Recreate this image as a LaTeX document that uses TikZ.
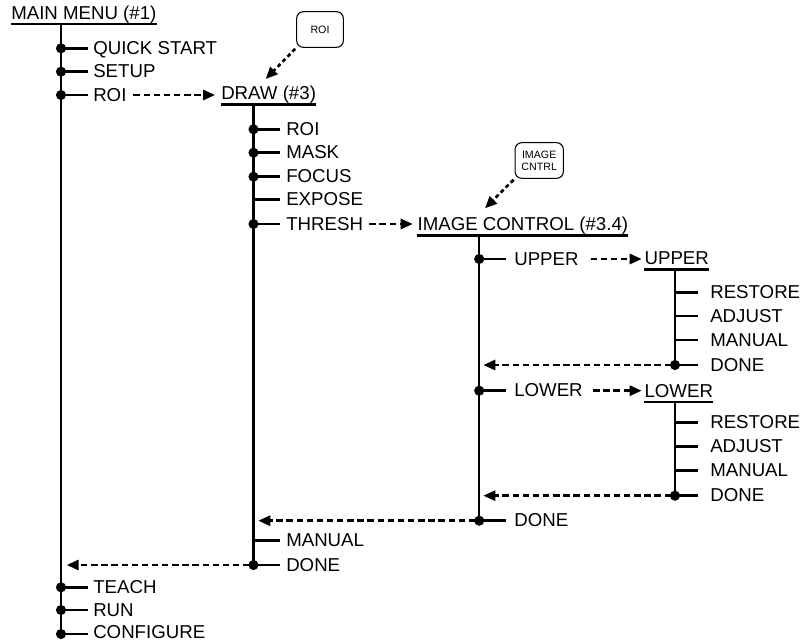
\documentclass[tikz,border=0pt]{standalone}
\usepackage{fontspec}
\setmainfont{Liberation Sans}
\usetikzlibrary{arrows.meta}
\begin{document}
\begin{tikzpicture}[x=0.75pt,y=-0.75pt,
  every node/.style={font=\fontsize{14pt}{16pt}\selectfont},
  ln/.style={line width=1.9pt},
  item/.style={anchor=west, inner xsep=#1, inner ysep=0pt, text height=10pt, text depth=0pt, yshift=0.5pt},
  item/.default=4pt,
  ttl/.style={anchor=base west, inner xsep=0pt, inner ysep=3.5pt, text depth=0pt},
  uline/.style={line width=1.9pt},
  dasharrow/.style={line width=1.9pt, dash pattern=on 4.8pt off 2.8pt, -{Triangle[length=9pt,width=7.6pt]}},
  boxarrow/.style={line width=2pt, dash pattern=on 3pt off 2.3pt, -{Triangle[length=9pt,width=7.6pt]}},
  smallbox/.style={draw, line width=0.8pt, rounded corners=5pt, minimum width=35pt, minimum height=26.7pt, font=\fontsize{8pt}{9.2pt}\selectfont, align=center, inner sep=1pt},
]
\useasboundingbox (0,0) rectangle (802,642);

% ---------------- MAIN MENU ----------------
\node[ttl] (mainT) at (11,19.3) {MAIN MENU (\#1)};
\draw[uline] (mainT.south west) -- (mainT.south east);
\coordinate (mq) at (61,48.3);
\coordinate (ms) at (61,71.7);
\coordinate (mr) at (61,95);
\coordinate (mt) at (61,587.3);
\coordinate (mu) at (61,610);
\coordinate (mc) at (61,634);
\draw[ln] (mainT.south -| mq) -- (mc);
\node[item=3.75pt] (lQS) at (88,48.3) {QUICK START};
\node[item=3.75pt] (lSetup) at (88,71.7) {SETUP};
\node[item=3.75pt] (lROI) at (88,95) {ROI};
\node[item=3.75pt] (lTeach) at (88,587.3) {TEACH};
\node[item=3.75pt] (lRun) at (88,610) {RUN};
\node[item=3.75pt, yshift=1.2pt] (lConf) at (88,634) {CONFIGURE};
\foreach \c/\l in {mq/lQS, ms/lSetup, mr/lROI, mt/lTeach, mu/lRun, mc/lConf}
  \draw[ln] (\c) -- (\c -| \l.west);

% ---------------- DRAW ----------------
\node[ttl] (drawT) at (221,99.6) {DRAW (\#3)};
\draw[uline] (drawT.south west) -- (drawT.south east);
\coordinate (dr) at (253.5,129.3);
\coordinate (dm) at (253.5,152.7);
\coordinate (df) at (253.5,176.7);
\coordinate (de) at (253.5,199.3);
\coordinate (dt) at (253.5,224);
\coordinate (dn) at (253.5,540.7);
\coordinate (dd) at (253.5,565);
\draw[ln] (drawT.south -| dr) -- (dd);
\node[item=4.5pt] (lDR) at (280,129.3) {ROI};
\node[item=4.5pt] (lDM) at (280,152.7) {MASK};
\node[item=4.5pt] (lDF) at (280,176.7) {FOCUS};
\node[item=4.5pt] (lDE) at (280,199.3) {EXPOSE};
\node[item=4.5pt] (lDT) at (280,224) {THRESH};
\node[item=4.5pt] (lDN) at (280,540.7) {MANUAL};
\node[item=4.5pt] (lDD) at (280,565) {DONE};
\foreach \c/\l in {dr/lDR, dm/lDM, df/lDF, de/lDE, dt/lDT, dn/lDN, dd/lDD}
  \draw[ln] (\c) -- (\c -| \l.west);
\draw[dasharrow, shorten <=1.3pt, shorten >=4.5pt] (lROI.east |- mr) -- (drawT.west |- mr);

% ROI box
\node[smallbox] (roiBox) at (320,29.5) {ROI};
\coordinate (roiTip) at (265.7,79);
\draw[boxarrow, shorten <=1pt] (roiBox.south west) -- (roiTip);

% ---------------- IMAGE CONTROL ----------------
\node[ttl] (icT) at (417.3,230.3) {IMAGE CONTROL (\#3.4)};
\draw[uline] (icT.south west) -- (icT.south east);
\coordinate (iu) at (479.2,259);
\coordinate (il) at (479.2,390.7);
\coordinate (id) at (479.2,520.7);
\draw[ln] (icT.south -| iu) -- (id);
\node[item=6pt] (lIU) at (506,259) {UPPER};
\node[item=6pt] (lIL) at (506,390.7) {LOWER};
\node[item=6pt] (lID) at (506,520.7) {DONE};
\foreach \c/\l in {iu/lIU, il/lIL, id/lID}
  \draw[ln] (\c) -- (\c -| \l.west);
\draw[dasharrow, shorten <=0pt, shorten >=3.5pt] (lDT.east |- dt) -- (icT.west |- dt);

% IMAGE CNTRL box
\node[smallbox, minimum width=36.2pt] (icBox) at (539.2,160.5) {IMAGE\\CNTRL};
\coordinate (icTip) at (485,208.3);
\draw[boxarrow, shorten <=1pt] (icBox.south west) -- (icTip);

% ---------------- UPPER ----------------
\node[ttl] (upT) at (644.3,264.6) {UPPER};
\draw[uline] (upT.south west) -- (upT.south east);
\coordinate (ur) at (675,292.3);
\coordinate (ua) at (675,316);
\coordinate (um) at (675,340);
\coordinate (ud) at (675,365);
\draw[ln] (upT.south -| ur) -- (ud);
\node[item=9pt] (lUR) at (698,292.3) {RESTORE};
\node[item=9pt] (lUA) at (698,316) {ADJUST};
\node[item=9pt] (lUM) at (698,340) {MANUAL};
\node[item=9pt] (lUD) at (698,365) {DONE};
\foreach \c/\l in {ur/lUR, ua/lUA, um/lUM, ud/lUD}
  \draw[ln] (\c) -- (\c -| \l.west);
\draw[dasharrow, shorten <=2.8pt, shorten >=2pt] (lIU.east |- iu) -- (upT.west |- iu);

% ---------------- LOWER ----------------
\node[ttl] (loT) at (644.3,397) {LOWER};
\draw[uline] (loT.south west) -- (loT.south east);
\coordinate (lr) at (675,422.3);
\coordinate (la) at (675,446.7);
\coordinate (lm) at (675,470.7);
\coordinate (ld) at (675,495.7);
\draw[ln] (loT.south -| lr) -- (ld);
\node[item=9pt] (lLR) at (698,422.3) {RESTORE};
\node[item=9pt] (lLA) at (698,446.7) {ADJUST};
\node[item=9pt] (lLM) at (698,470.7) {MANUAL};
\node[item=9pt] (lLD) at (698,495.7) {DONE};
\foreach \c/\l in {lr/lLR, la/lLA, lm/lLM, ld/lLD}
  \draw[ln] (\c) -- (\c -| \l.west);
\draw[dasharrow, shorten <=1.6pt, shorten >=2pt] (lIL.east |- il) -- (loT.west |- il);

% ---------------- return arrows ----------------
\draw[dasharrow, shorten <=3pt, shorten >=3.1pt] (ud) -- (ud -| iu);
\draw[dasharrow, shorten <=3pt, shorten >=3.1pt] (ld) -- (ld -| iu);
\draw[dasharrow, shorten <=3pt, shorten >=3.6pt] (id) -- (id -| dr);
\draw[dasharrow, shorten <=3pt, shorten >=4.3pt] (dd) -- (dd -| mq);

% ---------------- dots ----------------
\foreach \c in {mq, ms, mr, mt, mu, mc, dr, dm, df, dt, dd, iu, il, id, ud, ld}
  \fill (\c) circle (3.8pt);
\end{tikzpicture}
\end{document}
